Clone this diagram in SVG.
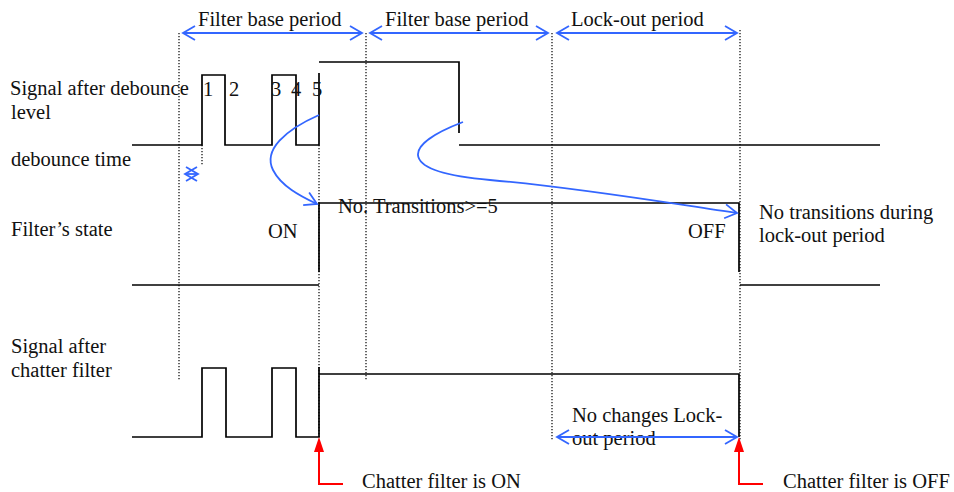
<svg xmlns="http://www.w3.org/2000/svg" width="954" height="492" viewBox="0 0 954 492">
<style>
text{font-family:"Liberation Serif","Times New Roman",serif;font-size:20.5px;fill:#111}
.sig{fill:none;stroke:#000;stroke-width:1.7}
.dot{fill:none;stroke:#000;stroke-width:1.2;stroke-dasharray:1.2 1.8}
.blue{fill:none;stroke:#3366FF;stroke-width:1.8}
.red{fill:none;stroke:#FF0000;stroke-width:2}
</style>
<defs>
<marker id="ba" viewBox="-1 -1 14 16" refX="12" refY="7" markerWidth="14" markerHeight="16" markerUnits="userSpaceOnUse" orient="auto-start-reverse" overflow="visible">
<path d="M0,0 L12,7 L0,14" fill="none" stroke="#3366FF" stroke-width="1.8"/>
</marker>
<marker id="ra" viewBox="0 0 10 15" refX="5" refY="0" markerWidth="10" markerHeight="15" markerUnits="userSpaceOnUse" orient="0">
<path d="M5,0 L10,15 L0,15 Z" fill="#FF0000"/>
</marker>
</defs>
<g id="guides">
<line class="dot" x1="179" y1="33" x2="179" y2="381"/>
<line class="dot" x1="366" y1="33" x2="366" y2="381"/>
<line class="dot" x1="552" y1="33" x2="552" y2="441"/>
<line class="dot" x1="740" y1="30" x2="740" y2="441"/>
<line class="dot" x1="319" y1="145" x2="319" y2="437"/>
<line class="dot" x1="202" y1="145" x2="202" y2="165"/>
</g>
<g id="labels">
<text x="10" y="95">Signal after debounce</text>
<text x="11" y="119">level</text>
<text x="11" y="166">debounce time</text>
<text x="11" y="236">Filter’s state</text>
<text x="11" y="353">Signal after</text>
<text x="11" y="377">chatter filter</text>
</g>
<g id="periods">
<text x="198" y="26">Filter base period</text>
<text x="385" y="26">Filter base period</text>
<text x="571" y="26">Lock-out period</text>
</g>
<g id="debounce-signal">
<polyline class="sig" points="132,145 202,145 202,75 225,75 225,145 272,145 272,75 296,75 296,145 319,145 319,73"/>
<polyline class="sig" points="319,62 459,62 459,133"/>
<polyline class="sig" points="459,145 880,145"/>
<text x="203" y="96">1</text>
<text x="229" y="96">2</text>
<text x="271" y="96">3</text>
<text x="291" y="96">4</text>
<text x="312" y="96">5</text>
</g>
<g id="filter-state">
<polyline class="sig" points="132,285 319,285"/>
<polyline class="sig" points="319,272 319,203 739,203 739,272"/>
<polyline class="sig" points="740,285 880,285"/>
<text x="268" y="238">ON</text>
<text x="338" y="213">No. Transitions&gt;=5</text>
<text x="688" y="238">OFF</text>
<text x="759" y="219">No transitions during</text>
<text x="759" y="242">lock-out period</text>
</g>
<g id="chatter-signal">
<polyline class="sig" points="132,437 202,437 202,368 226,368 226,437 272,437 272,368 296,368 296,437 319,437 319,367"/>
<polyline class="sig" points="319,374 739,374 739,437"/>
<text x="572" y="422">No changes Lock-</text>
<text x="572" y="445">out period</text>
</g>
<g id="connectors">
<line class="blue" x1="183" y1="33" x2="362" y2="33" marker-start="url(#ba)" marker-end="url(#ba)"/>
<line class="blue" x1="370" y1="33" x2="548" y2="33" marker-start="url(#ba)" marker-end="url(#ba)"/>
<line class="blue" x1="557" y1="33" x2="737" y2="33" marker-start="url(#ba)" marker-end="url(#ba)"/>
<line class="blue" x1="185" y1="174" x2="198" y2="174" marker-start="url(#ba)" marker-end="url(#ba)"/>
<line class="blue" x1="557" y1="437" x2="737" y2="437" marker-start="url(#ba)" marker-end="url(#ba)"/>
<path class="blue" d="M319,115 C285,130 263,150 273,170 C281,186 300,196 317,204" marker-end="url(#ba)"/>
<path class="blue" d="M463,122 C400,146 398,172 490,180 S680,205 737,213" marker-end="url(#ba)"/>
<polyline class="red" points="343,484 319,484 319,450"/>
<line x1="319" y1="437" x2="319" y2="437.1" marker-start="url(#ra)"/>
<polyline class="red" points="763,484 739,484 739,450"/>
<line x1="739" y1="437" x2="739" y2="437.1" marker-start="url(#ra)"/>
</g>
<g id="notes">
<text x="362" y="488">Chatter filter is ON</text>
<text x="783" y="488">Chatter filter is OFF</text>
</g>
</svg>
